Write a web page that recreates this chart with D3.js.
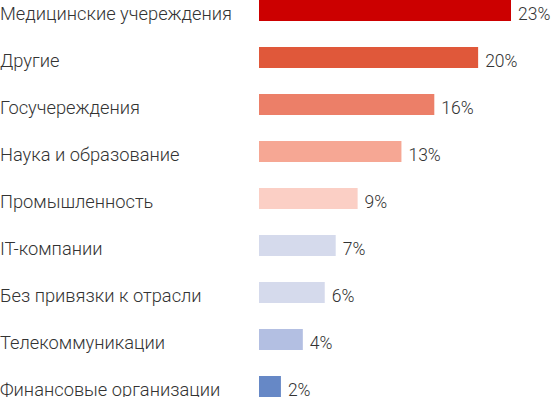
<!DOCTYPE html>
<html>
<head>
<meta charset="utf-8">
<script src="https://cdn.jsdelivr.net/npm/d3@7"></script>
<style>
  body { margin: 0; background: #fff; }
  text { font-family: Roboto, sans-serif; }
</style>
</head>
<body>
<div id="chart"></div>
<script>
// data
var categories = ["Медицинские учереждения", "Другие", "Госучереждения", "Наука и образование",
  "Промышленность", "IT-компании", "Без привязки к отрасли", "Телекоммуникации", "Финансовые организации"];
var values = [23, 20, 16, 13, 9, 7, 6, 4, 2];
var colors = ["#cc0000", "#e0583a", "#ec7f68", "#f6a794", "#fbcfc5", "#d5daec", "#d5daec", "#b3bfe2", "#6688c6"];

var width = 552, height = 397;

var svg = d3.select("#chart")
  .append("svg")
    .attr("width", width)
    .attr("height", height);

// band scale for rows (step 47, bar 21), linear for bar length
var y = d3.scaleBand()
  .domain(categories)
  .range([0, 47 * (categories.length - 1) + 21])
  .paddingInner(26 / 47)
  .paddingOuter(0)
  .align(0);

var x = d3.scaleLinear()
  .domain([0, 23])
  .range([259, 511]);

var row = svg.selectAll("g.row")
  .data(categories)
  .enter()
  .append("g")
    .attr("class", "row");

row.append("rect")
  .attr("x", x(0))
  .attr("y", function(d){ return y(d); })
  .attr("width", function(d, i){ return x(values[i]) - x(0); })
  .attr("height", y.bandwidth())
  .style("fill", function(d, i){ return colors[i]; });

// category labels
row.append("text")
  .attr("x", 0)
  .attr("y", function(d){ return y(d) + y.bandwidth() - 1; })
  .style("font-size", "18.3px")
  .style("font-weight", 300)
  .style("fill", "#333")
  .text(function(d){ return d; });

// value labels
row.append("text")
  .attr("x", function(d, i){ return x(values[i]) + 7; })
  .attr("y", function(d){ return y(d) + y.bandwidth() - 1; })
  .style("font-size", "17.5px")
  .style("font-weight", 300)
  .style("fill", "#333")
  .text(function(d, i){ return values[i] + "%"; });
</script>
</body>
</html>
